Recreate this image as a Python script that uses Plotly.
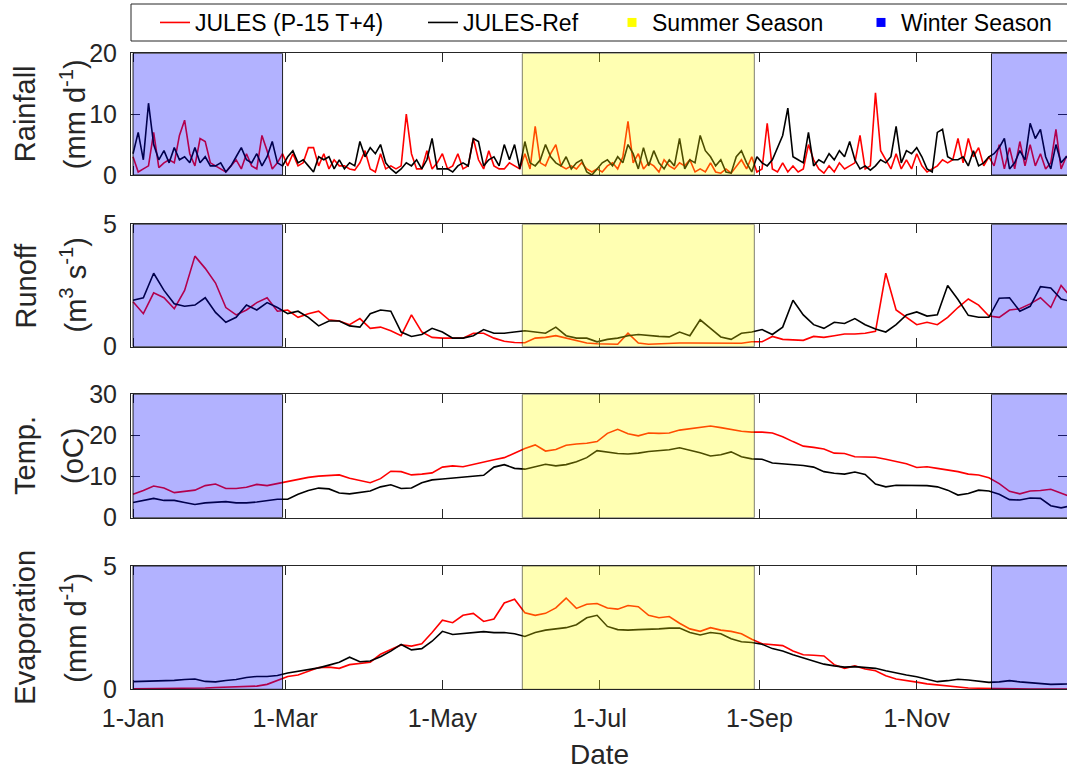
import pandas as pd
import plotly.graph_objects as go

START = "2001-01-01"
RAIN_STEP_DAYS = 2
SMOOTH_STEP_DAYS = 4

# ---------------- data ----------------
rain_model = [
    3.0, 0.5, 1.0, 1.5, 7.0, 1.2, 2.0, 2.5, 2.0, 6.5, 9.0, 3.5, 1.5, 6.0, 5.5, 2.0,
    1.5, 1.0, 0.5, 1.5, 2.5, 1.0, 3.5, 1.5, 1.0, 6.5, 4.0, 1.0, 2.0, 3.5,
    1.5, 3.5, 1.5, 2.0, 4.5, 4.5, 1.5, 3.5, 1.0, 2.5, 1.5, 1.5, 1.0, 0.8, 2.0, 4.0,
    1.0, 0.5, 3.5, 1.0, 1.5, 1.0, 1.5, 10.0, 3.5, 1.0, 1.0, 4.0, 1.0, 2.0, 3.5,
    1.0, 1.5, 3.5, 1.0, 1.5, 6.0, 2.5, 1.0, 4.0, 1.5, 1.0, 1.0, 2.0, 1.5, 1.0,
    3.5, 1.0, 8.0, 2.0, 1.5, 3.5, 5.0, 1.5, 1.0, 1.5,
    1.0, 2.0, 1.0, 0.5, 1.0, 0.5, 1.5, 2.0, 1.0, 3.0,
    8.8, 2.0, 3.5, 1.0, 2.0, 1.5, 0.5, 2.5, 1.5, 1.0,
    2.0, 1.5, 2.5, 0.5, 1.0, 0.5, 2.0, 0.5, 0.3, 1.0,
    0.3, 1.5, 2.5, 1.0, 3.0,
    0.5, 1.0, 8.5, 1.0, 0.5, 2.0, 0.5, 1.5, 0.5, 1.0,
    5.0, 2.5, 1.0, 0.3, 1.5, 0.5, 2.0, 1.0, 1.5, 2.0,
    6.5, 1.0, 1.5, 13.5, 4.0, 2.5, 1.0, 3.5, 1.0, 2.5,
    1.0, 3.5, 1.5, 0.5, 1.0, 1.5, 2.5, 2.0, 2.5, 6.0,
    2.0, 6.0, 3.0, 4.5, 1.5, 3.0,
    1.5, 5.0, 1.0, 4.5, 1.0, 5.5, 1.5, 5.0, 1.5, 3.5, 1.0, 2.0, 7.5, 1.0, 3.0, 2.0,
]
rain_ref = [
    3.5, 7.0, 2.5, 11.8, 5.0, 2.5, 4.0, 2.0, 4.5, 2.5, 3.0, 2.0, 4.5, 2.0, 3.0, 1.5,
    1.5, 2.0, 0.5, 1.5, 3.0, 4.5, 2.5, 2.0, 3.5, 1.5, 3.0, 5.5, 2.0, 1.5,
    3.0, 4.0, 2.0, 2.5, 1.5, 0.5, 3.0, 2.5, 3.0, 1.0, 2.5, 1.0, 2.0, 1.5, 5.5, 3.0,
    4.5, 3.5, 5.0, 2.0, 1.0, 0.3, 1.0, 2.0, 1.5, 2.5, 1.0, 2.5, 6.0, 1.0, 1.0,
    1.0, 0.5, 1.5, 2.0, 1.5, 6.0, 5.5, 1.5, 2.5, 3.0, 1.5, 5.0, 2.5, 5.0, 1.0,
    5.5, 2.0, 1.5, 2.5, 5.0, 3.0, 2.0, 1.5, 3.0, 1.0,
    2.0, 2.5, 0.5, 0.0, 1.0, 2.0, 2.5, 1.5, 3.0, 2.0,
    5.0, 3.5, 1.0, 4.5, 1.5, 4.0, 2.0, 1.0, 2.5, 1.5,
    6.0, 1.0, 2.5, 2.0, 6.5, 4.0, 3.0, 1.5, 2.5, 0.5,
    0.3, 3.0, 4.0, 2.0, 0.5,
    3.0, 2.0, 1.5, 2.5, 4.5, 6.5, 11.0, 3.0, 2.5, 2.0,
    7.0, 1.5, 2.5, 2.0, 3.5, 2.5, 4.0, 3.0, 5.5, 2.5,
    1.0, 1.5, 0.8, 1.5, 2.5, 2.0, 3.0, 8.0, 2.0, 4.0,
    3.5, 4.5, 3.0, 1.0, 0.5, 7.0, 7.5, 3.0, 2.5, 2.5,
    3.0, 1.5, 4.0, 1.5, 2.0, 3.0,
    3.5, 4.5, 6.0, 1.0, 2.0, 4.0, 2.5, 8.5, 6.0, 7.5, 3.0, 1.0, 5.0, 2.0, 3.0, 2.5,
]
runoff_model = [
    1.84, 1.35, 2.2, 2.0, 1.55, 2.3, 3.7, 3.2, 2.6, 1.6,
    1.3, 1.5, 1.8, 2.0, 1.45, 1.5, 1.2, 1.35, 1.45, 1.1,
    1.05, 0.9, 1.15, 0.75, 0.8, 0.65, 0.45, 1.3, 0.6, 0.38,
    0.35, 0.35, 0.35, 0.55, 0.55, 0.35, 0.22, 0.17, 0.16, 0.35,
    0.38, 0.45, 0.35, 0.22, 0.15, 0.12, 0.1, 0.1, 0.55, 0.15,
    0.1, 0.12, 0.15, 0.15, 0.15, 0.15, 0.14, 0.14, 0.14, 0.14,
    0.2, 0.2, 0.42, 0.3, 0.28, 0.26, 0.42, 0.38, 0.45, 0.52,
    0.52, 0.55, 0.63, 3.0, 1.5, 1.2, 0.9, 1.0, 0.9, 1.2,
    1.6, 1.95, 1.7, 1.25, 1.2, 1.5, 1.55, 1.75, 2.0, 1.6,
    2.5, 2.0,
]
runoff_ref = [
    1.9, 2.0, 3.0, 2.3, 1.75, 1.65, 1.7, 2.0, 1.4, 1.0,
    1.2, 1.7, 1.5, 1.8, 1.6, 1.35, 1.45, 1.2, 0.85, 1.05,
    1.05, 0.85, 0.8, 1.35, 1.5, 1.45, 0.6, 0.42, 0.5, 0.75,
    0.6, 0.35, 0.35, 0.45, 0.7, 0.55, 0.55, 0.6, 0.65, 0.6,
    0.55, 0.8, 0.45, 0.35, 0.35, 0.2, 0.3, 0.35, 0.45, 0.5,
    0.45, 0.42, 0.4, 0.6, 0.45, 1.1, 0.75, 0.4, 0.3, 0.55,
    0.6, 0.7, 0.5, 0.8, 1.9, 1.3, 0.9, 0.75, 1.0, 0.95,
    1.15, 0.9, 0.72, 0.6, 0.9, 1.3, 1.42, 1.25, 1.3, 2.5,
    1.93, 1.28, 1.2, 1.2, 1.98, 2.0, 1.45, 1.65, 2.45, 2.4,
    1.95, 1.84,
]
temp_model = [
    5.7, 6.6, 7.7, 7.2, 6.1, 6.4, 6.7, 7.8, 8.2, 7.1,
    7.1, 7.4, 8.1, 7.8, 8.3, 8.9, 9.4, 9.8, 10.1, 10.2,
    10.4, 9.6, 9.1, 8.5, 9.5, 11.3, 11.2, 10.4, 10.6, 10.9,
    12.3, 12.6, 12.4, 13.0, 13.5, 14.1, 14.6, 15.8, 16.8, 17.7,
    16.2, 16.6, 17.6, 17.9, 18.1, 18.5, 20.5, 21.5, 20.4, 19.9,
    20.6, 20.5, 20.6, 21.3, 21.6, 22.0, 22.3, 21.9, 21.5, 21.0,
    20.8, 20.8, 20.6, 19.7, 18.5, 17.4, 17.1, 16.7, 15.7, 15.6,
    14.8, 14.8, 14.7, 14.2, 13.7, 13.1, 12.2, 12.4, 12.0, 11.6,
    11.2, 10.6, 10.4, 9.7, 8.3, 6.4, 5.8, 6.5, 6.6, 6.9,
    6.0, 5.0,
]
temp_ref = [
    3.7, 4.2, 4.7, 4.2, 4.2, 3.7, 3.2, 3.6, 3.8, 3.9,
    3.6, 3.6, 3.8, 4.2, 4.5, 4.5, 5.7, 6.6, 7.2, 7.0,
    6.0, 5.8, 6.1, 6.5, 7.5, 8.0, 7.1, 7.2, 8.5, 9.2,
    9.4, 9.6, 9.8, 10.0, 10.3, 12.3, 12.9, 12.0, 11.8, 12.4,
    13.0, 12.6, 12.9, 13.6, 14.6, 16.3, 15.9, 15.6, 15.5, 15.7,
    16.1, 16.3, 16.5, 17.0, 16.4, 15.8, 15.0, 15.3, 16.0, 14.8,
    14.3, 14.2, 13.3, 13.1, 13.0, 12.7, 12.3, 11.2, 10.8, 10.6,
    11.1, 10.5, 8.2, 7.5, 7.9, 7.9, 7.9, 7.8, 7.5, 6.7,
    5.5, 5.9, 6.7, 6.5, 5.7, 4.4, 4.3, 4.8, 4.7, 2.9,
    2.4, 2.9,
]
evap_model = [
    0.02, 0.02, 0.02, 0.02, 0.02, 0.03, 0.04, 0.05, 0.07, 0.09,
    0.1, 0.1, 0.13, 0.2, 0.37, 0.52, 0.58, 0.72, 0.88, 0.9,
    0.85, 1.0, 1.06, 1.1, 1.42, 1.6, 1.8, 1.75, 1.85, 2.3,
    2.8, 2.7, 3.0, 3.08, 2.75, 2.85, 3.5, 3.65, 3.1, 3.0,
    3.08, 3.3, 3.7, 3.28, 3.45, 3.48, 3.3, 3.25, 3.4, 3.35,
    3.0, 2.9, 2.95, 2.68, 2.45, 2.35, 2.5, 2.4, 2.35, 2.25,
    2.03, 1.85, 1.8, 1.77, 1.55, 1.4, 1.38, 1.35, 1.0, 0.85,
    0.95, 0.82, 0.75, 0.55, 0.42, 0.34, 0.29, 0.22, 0.18, 0.12,
    0.07, 0.05, 0.04, 0.03, 0.02, 0.02, 0.01, 0.01, 0.01, 0.01,
    0.01, 0.01,
]
evap_ref = [
    0.31, 0.32, 0.32, 0.34, 0.36, 0.4, 0.42, 0.32, 0.3, 0.36,
    0.4, 0.48, 0.52, 0.52, 0.56, 0.66, 0.72, 0.8, 0.87, 0.98,
    1.1, 1.3, 1.12, 1.15, 1.32, 1.55, 1.82, 1.6, 1.65, 1.95,
    2.35, 2.22, 2.26, 2.3, 2.34, 2.3, 2.3, 2.25, 2.14, 2.3,
    2.4, 2.45, 2.5, 2.62, 2.9, 3.0, 2.55, 2.42, 2.4, 2.42,
    2.43, 2.45, 2.48, 2.48, 2.3, 2.2, 2.3, 2.25, 2.05, 1.93,
    1.9, 1.83, 1.65, 1.55, 1.4, 1.27, 1.12, 1.02, 0.95, 0.9,
    0.92, 0.88, 0.85, 0.75, 0.65, 0.58, 0.51, 0.42, 0.31, 0.35,
    0.41, 0.38, 0.32, 0.28, 0.3, 0.35, 0.3, 0.27, 0.25, 0.2,
    0.21, 0.22,
]

tick_dates = ["2001-01-01", "2001-03-01", "2001-05-01", "2001-07-01", "2001-09-01", "2001-11-01"]
tick_labels = ["1-Jan", "1-Mar", "1-May", "1-Jul", "1-Sep", "1-Nov"]
summer_season = [("2001-06-01", "2001-08-30")]
winter_season = [("2001-01-01", "2001-02-28"), ("2001-11-30", "2002-01-05")]
x_range = ["2000-12-31 05:00", "2001-12-29 07:00"]

panel_titles = ["Rainfall", "Runoff", "Temp.", "Evaporation"]
panel_units = ["(mm d<sup>-1</sup>)", "(m<sup>3</sup> s<sup>-1</sup>)", "(oC)", "(mm d<sup>-1</sup>)"]
y_ranges = [[0, 20], [0, 5], [0, 30], [0, 5]]
y_ticks = [[0, 10, 20], [0, 5], [0, 10, 20, 30], [0, 5]]
model_name = "JULES (P-15 T+4)"
ref_name = "JULES-Ref"

# ---------------- layout geometry ----------------
W, H = 1067, 772
ML = 131
PW = W - ML
panel_px = [(53.3, 175.0), (224.3, 346.7), (394.3, 517.7), (566.0, 689.3)]


def px2x(px):
    return (px - ML) / PW


def py2y(py):
    return 1 - py / H


INK = "#262626"
FONT = "Liberation Sans, Arial, sans-serif"

fig = go.Figure()
series = [
    (rain_model, rain_ref, RAIN_STEP_DAYS),
    (runoff_model, runoff_ref, SMOOTH_STEP_DAYS),
    (temp_model, temp_ref, SMOOTH_STEP_DAYS),
    (evap_model, evap_ref, SMOOTH_STEP_DAYS),
]
for i, (mod, ref, step) in enumerate(series):
    xa = "x" if i == 0 else f"x{i+1}"
    ya = "y" if i == 0 else f"y{i+1}"
    xm = pd.date_range(START, periods=len(mod), freq=f"{step}D")
    xr = pd.date_range(START, periods=len(ref), freq=f"{step}D")
    fig.add_trace(go.Scatter(x=xm, y=mod, xaxis=xa, yaxis=ya, mode="lines",
                             line=dict(color="#FF0000", width=1.6), name=model_name,
                             legendgroup="m", showlegend=(i == 0), legendwidth=223))
    fig.add_trace(go.Scatter(x=xr, y=ref, xaxis=xa, yaxis=ya, mode="lines",
                             line=dict(color="#000000", width=1.6), name=ref_name,
                             legendgroup="r", showlegend=(i == 0), legendwidth=144))

fig.add_trace(go.Scatter(x=[None], y=[None], mode="markers", name="Summer Season",
                         marker=dict(symbol="square", size=9, color="#FFFF00"), legendwidth=204))
fig.add_trace(go.Scatter(x=[None], y=[None], mode="markers", name="Winter Season",
                         marker=dict(symbol="square", size=9, color="#0000FF"), legendwidth=156))

layout = dict(
    width=W, height=H,
    margin=dict(l=ML, r=0, t=0, b=0, autoexpand=False),
    plot_bgcolor="white", paper_bgcolor="white",
    font=dict(family=FONT, color=INK, size=24),
    showlegend=True,
    legend=dict(orientation="h", x=px2x(155), xanchor="left", y=py2y(22.5), yanchor="middle",
                borderwidth=0, bgcolor="rgba(0,0,0,0)",
                font=dict(size=23, color="#000000"), itemclick=False),
)
shapes = [dict(type="rect", xref="paper", yref="paper", x0=px2x(131), x1=px2x(1080),
               y0=py2y(41), y1=py2y(4), line=dict(color=INK, width=1),
               fillcolor="rgba(0,0,0,0)", layer="below")]
annotations = []
for i in range(4):
    xk = "xaxis" if i == 0 else f"xaxis{i+1}"
    yk = "yaxis" if i == 0 else f"yaxis{i+1}"
    yn = "y" if i == 0 else f"y{i+1}"
    xn = "x" if i == 0 else f"x{i+1}"
    top, bot = panel_px[i]
    layout[xk] = dict(domain=[0, 1], anchor=yn, type="date", range=x_range,
                      tickmode="array", tickvals=tick_dates, ticktext=tick_labels,
                      showticklabels=(i == 3), ticks="inside", ticklen=9, tickwidth=1,
                      tickcolor=INK, showline=True, linecolor=INK, linewidth=1,
                      mirror="ticks", showgrid=False, zeroline=False,
                      tickfont=dict(size=25, color=INK), ticklabelstandoff=7)
    layout[yk] = dict(domain=[py2y(bot), py2y(top)], anchor=xn, range=y_ranges[i],
                      tickmode="array", tickvals=y_ticks[i], ticks="inside", ticklen=9,
                      tickwidth=1, tickcolor=INK, showline=True, linecolor=INK,
                      linewidth=1, mirror="ticks", showgrid=False, zeroline=False,
                      tickfont=dict(size=25, color=INK), ticklabelstandoff=8)
    for (a, b) in summer_season:
        shapes.append(dict(type="rect", xref=xn, yref=yn, x0=a, x1=b,
                           y0=y_ranges[i][0], y1=y_ranges[i][1], layer="above",
                           fillcolor="rgba(255,255,0,0.3)",
                           line=dict(color="rgba(0,0,0,0.5)", width=1)))
    for (a, b) in winter_season:
        shapes.append(dict(type="rect", xref=xn, yref=yn, x0=a, x1=b,
                           y0=y_ranges[i][0], y1=y_ranges[i][1], layer="above",
                           fillcolor="rgba(0,0,255,0.3)",
                           line=dict(color="rgba(0,0,0,0.85)", width=1)))
    yc = py2y((top + bot) / 2)
    annotations.append(dict(text=panel_titles[i], xref="paper", yref="paper",
                            x=px2x(25), y=yc, xanchor="center", yanchor="middle",
                            textangle=-90, showarrow=False,
                            font=dict(size=29, color=INK)))
    annotations.append(dict(text=panel_units[i], xref="paper", yref="paper",
                            x=px2x(73), y=yc, xanchor="center", yanchor="middle",
                            textangle=-90, showarrow=False,
                            font=dict(size=29, color=INK)))

annotations.append(dict(text="Date", xref="paper", yref="paper", x=0.5, y=0,
                        xanchor="center", yanchor="bottom", showarrow=False,
                        font=dict(size=28, color=INK)))
layout["shapes"] = shapes
layout["annotations"] = annotations
fig.update_layout(**layout)
fig.write_html("out.html")
